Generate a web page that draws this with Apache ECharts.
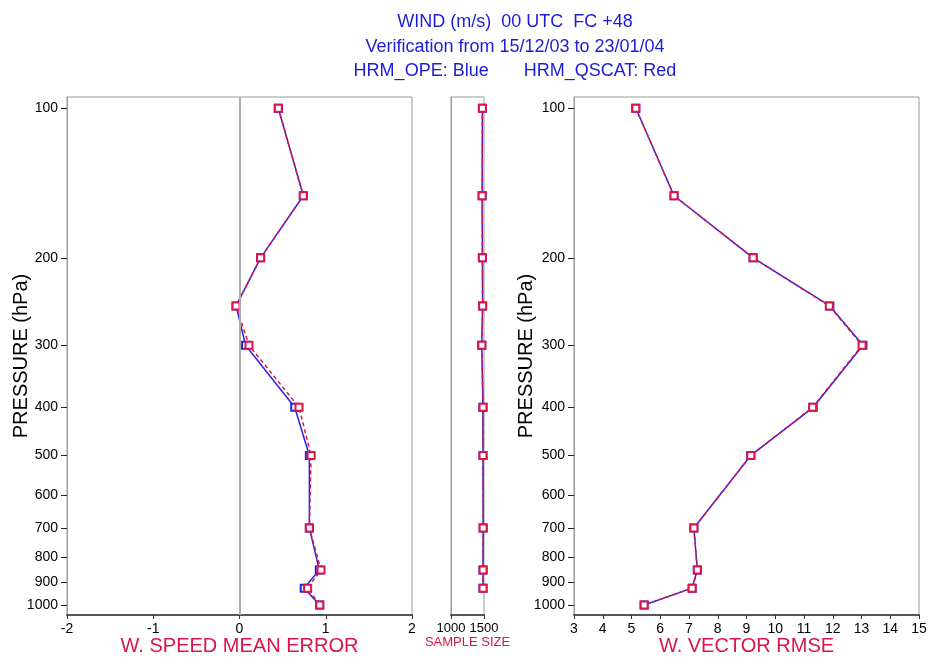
<!DOCTYPE html>
<html>
<head>
<meta charset="utf-8">
<script src="https://cdn.jsdelivr.net/npm/echarts@6/dist/echarts.min.js"></script>
<style>
  html, body { margin: 0; padding: 0; background: #fff; }
  #chart { width: 930px; height: 658px; }
</style>
</head>
<body>
<div id="chart"></div>
<script>
// pressure levels (hPa) and the labelled ticks of the log pressure axis
const pressure = [100, 150, 200, 250, 300, 400, 500, 700, 850, 925, 1000];
const pressureTicks = [100, 200, 300, 400, 500, 600, 700, 800, 900, 1000];

// wind speed mean error (m/s)
const meanErrOpe   = [0.45, 0.74, 0.245, -0.04, 0.07, 0.64, 0.81, 0.81, 0.925, 0.75, 0.93];
const meanErrQscat = [0.45, 0.74, 0.245, -0.04, 0.11, 0.69, 0.83, 0.81, 0.945, 0.79, 0.93];

// sample size (no value at 1000 hPa)
const sampleOpe   = [1476, 1472, 1476, 1479, 1466, 1484, 1485, 1487, 1485, 1485, null];
const sampleQscat = [1476, 1472, 1476, 1479, 1468, 1485, 1485, 1487, 1486, 1486, null];

// wind vector rmse (m/s)
const rmseOpe   = [5.15, 6.48, 9.23, 11.9, 13.05, 11.32, 9.15, 7.17, 7.29, 7.11, 5.44];
const rmseQscat = [5.15, 6.48, 9.23, 11.88, 13.02, 11.3, 9.15, 7.17, 7.29, 7.11, 5.44];

const BLUE = '#2424e6';
const RED = '#dc1448';
const FONT = 'Liberation Sans';

const chart = echarts.init(document.getElementById('chart'));

const logTicks = pressureTicks.map(p => Math.log10(p));
const yMin = 1.97725, yMax = 3.0202;

function pts(xs) {
    return xs.map((x, i) => [x, Math.log10(pressure[i])]).filter(d => d[0] != null);
}

function yAxis(gridIndex, withLabels, nameGap) {
    return {
        type: 'value', gridIndex, min: yMin, max: yMax, inverse: true,
        name: withLabels ? 'PRESSURE (hPa)' : '',
        nameLocation: 'middle', nameGap, nameMoveOverlap: false,
        nameTextStyle: { color: '#000', fontSize: 20, fontFamily: FONT },
        axisLine: { show: true, onZero: false, lineStyle: { color: '#999', width: 1 } },
        axisTick: { show: withLabels, customValues: logTicks, length: 6, lineStyle: { color: '#222' } },
        axisLabel: {
            show: withLabels, customValues: logTicks, margin: 9,
            color: '#000', fontSize: 14, fontFamily: FONT,
            formatter: v => String(Math.round(Math.pow(10, v)))
        },
        splitLine: { show: false }
    };
}

function xAxis(gridIndex, min, max, interval, name, nameSize, labelSize) {
    return {
        type: 'value', gridIndex, min, max, interval,
        name, nameLocation: 'middle', nameGap: 21, nameMoveOverlap: false,
        nameTextStyle: { color: RED, fontSize: nameSize, fontFamily: FONT },
        axisLine: { show: true, onZero: false, lineStyle: { color: '#555', width: 2 } },
        axisTick: { show: true, length: 4, lineStyle: { color: '#333' } },
        axisLabel: {
            color: '#000', fontSize: labelSize, fontFamily: FONT, margin: 7,
            formatter: v => String(v)
        },
        splitLine: { show: false }
    };
}

function pair(idx, opeVals, qscatVals, extra) {
    const base = {
        type: 'line', xAxisIndex: idx, yAxisIndex: idx,
        symbol: 'emptyRect', symbolSize: 7, animation: false, z: 3
    };
    const ope = Object.assign({}, base, {
        name: 'HRM_OPE', data: pts(opeVals),
        itemStyle: { color: BLUE, borderWidth: 1.3 },
        lineStyle: { color: BLUE, width: 1.5 }
    }, extra || {});
    const qscat = Object.assign({}, base, {
        name: 'HRM_QSCAT', data: pts(qscatVals), z: 4,
        itemStyle: { color: RED, borderWidth: 1.3 },
        lineStyle: { color: RED, width: 1.5, type: [4, 3] }
    });
    return [ope, qscat];
}

const gridBase = { top: 97, height: 518, show: true, borderColor: '#999', borderWidth: 1, outerBoundsMode: 'none', containLabel: false };

const option = {
    backgroundColor: '#fff',
    animation: false,
    title: {
        text: 'WIND (m/s)  00 UTC  FC +48\nVerification from 15/12/03 to 23/01/04\nHRM_OPE: Blue       HRM_QSCAT: Red',
        left: 510, top: 5, textAlign: 'center',
        textStyle: { color: '#1c1cd6', fontSize: 18, fontWeight: 'normal', fontFamily: FONT, lineHeight: 24.5 }
    },
    grid: [
        Object.assign({ left: 67, width: 345 }, gridBase),
        Object.assign({ left: 451, width: 33 }, gridBase),
        Object.assign({ left: 574, width: 345 }, gridBase)
    ],
    xAxis: [
        xAxis(0, -2, 2, 1, 'W. SPEED MEAN ERROR', 20, 14),
        xAxis(1, 1000, 1500, 500, 'SAMPLE SIZE', 13, 13),
        xAxis(2, 3, 15, 1, 'W. VECTOR RMSE', 20, 14)
    ],
    yAxis: [
        yAxis(0, true, 36),
        yAxis(1, false, 0),
        yAxis(2, true, 38)
    ],
    series: [
        ...pair(0, meanErrOpe, meanErrQscat, {
            markLine: {
                silent: true, symbol: 'none', label: { show: false },
                lineStyle: { color: '#aaa', width: 2, type: 'solid' },
                data: [{ xAxis: 0 }]
            }
        }),
        ...pair(1, sampleOpe, sampleQscat),
        ...pair(2, rmseOpe, rmseQscat)
    ]
};

chart.setOption(option);
window.addEventListener('resize', () => chart.resize());
</script>
</body>
</html>
